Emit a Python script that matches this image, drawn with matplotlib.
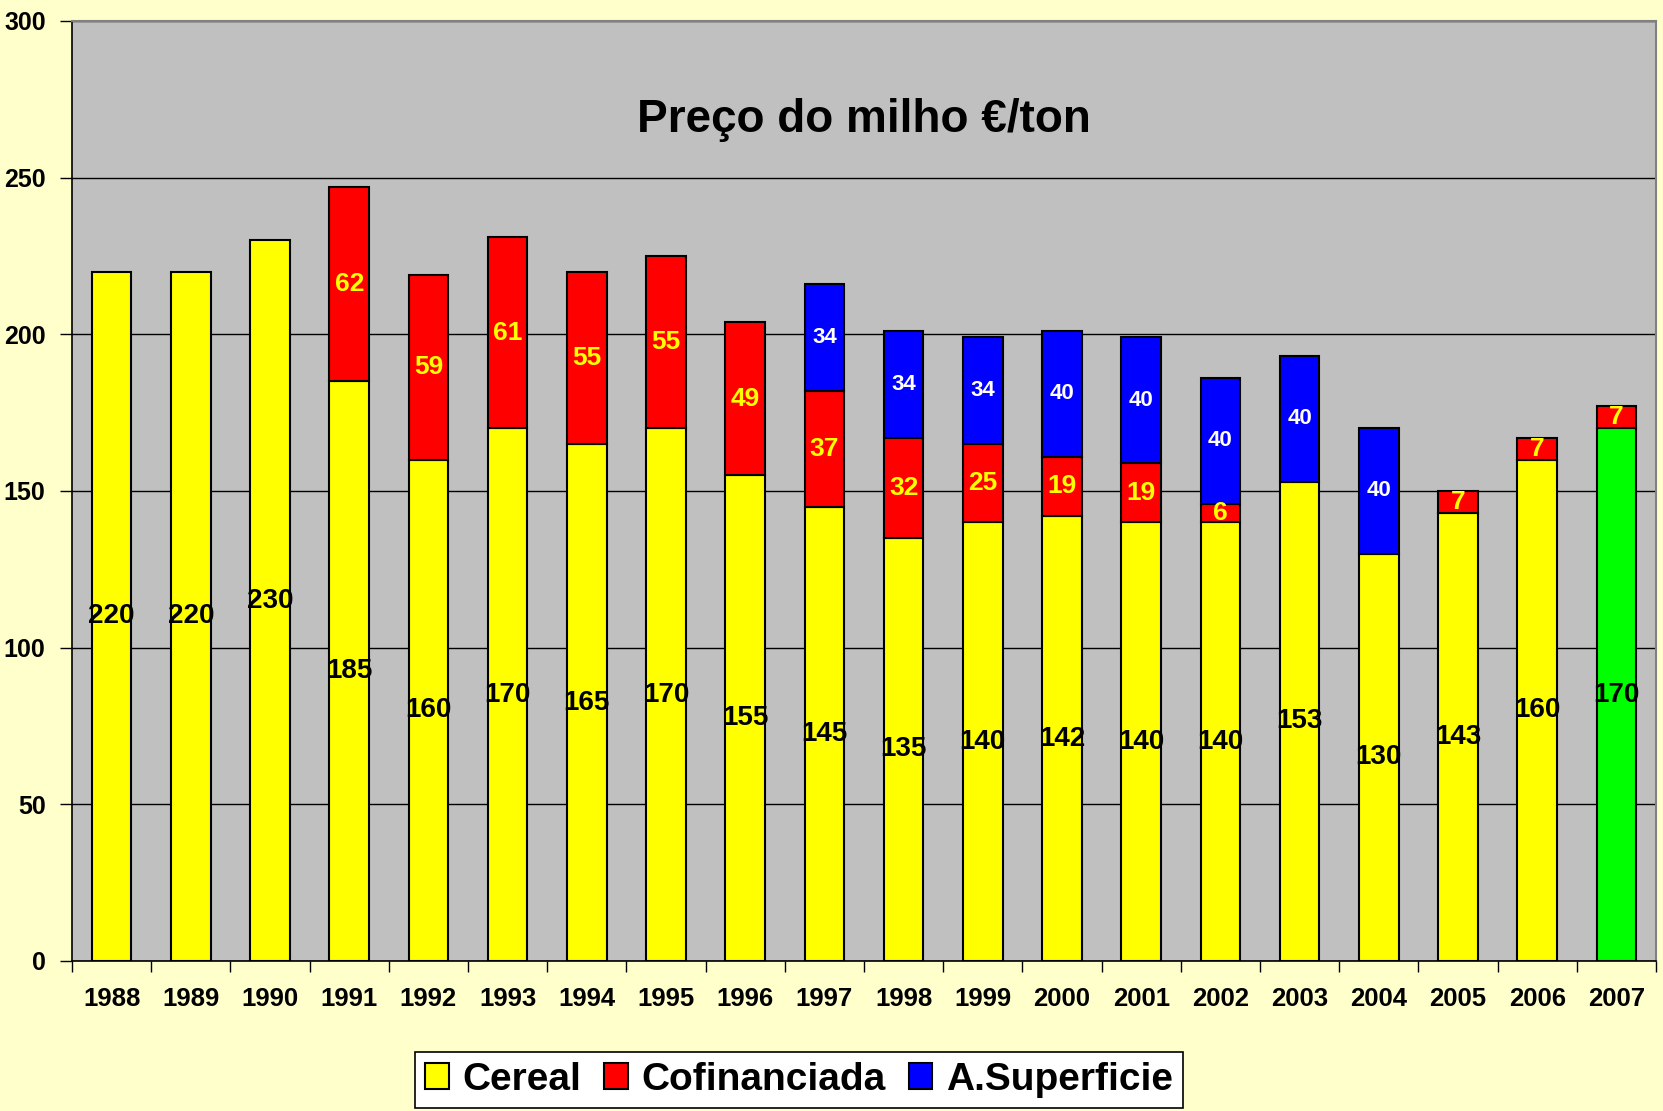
import matplotlib
matplotlib.use("Agg")
import matplotlib.pyplot as plt
from matplotlib.patches import Patch
import numpy as np

# ---------------------------------------------------------------------------
# Data (maize price, EUR/ton)
# ---------------------------------------------------------------------------
YEARS = [str(y) for y in range(1988, 2008)]
CEREAL = [220, 220, 230, 185, 160, 170, 165, 170, 155, 145,
          135, 140, 142, 140, 140, 153, 130, 143, 160, 170]
COFIN = [0, 0, 0, 62, 59, 61, 55, 55, 49, 37,
         32, 25, 19, 19, 6, 0, 0, 7, 7, 7]
SUPERF = [0, 0, 0, 0, 0, 0, 0, 0, 0, 34,
          34, 34, 40, 40, 40, 40, 40, 0, 0, 0]
SERIES = ["Cereal", "Cofinanciada", "A.Superficie"]
TITLE = "Preço do milho €/ton"

FIG_BG = "#FFFFCC"
PLOT_BG = "#C0C0C0"
YELLOW, RED, BLUE, GREEN = "#FFFF00", "#FF0000", "#0000FF", "#00FF00"

plt.rcParams["font.family"] = ["Liberation Sans", "DejaVu Sans"]
plt.rcParams["font.weight"] = "bold"

W, H = 1663, 1111
fig = plt.figure(figsize=(W / 100, H / 100), dpi=100, facecolor=FIG_BG)
ax = fig.add_axes([72 / W, 1 - 961 / H, (1656 - 72) / W, (961 - 21) / H])
ax.set_facecolor(PLOT_BG)

x = np.arange(len(YEARS))
cereal = np.array(CEREAL, dtype=float)
cofin = np.array(COFIN, dtype=float)
superf = np.array(SUPERF, dtype=float)
bw = 0.5

# --- bars ---
cereal_colors = [YELLOW] * (len(YEARS) - 1) + [GREEN]
ax.bar(x, cereal, bw, color=cereal_colors, edgecolor="black", linewidth=1.5, zorder=3)

m = cofin > 0
ax.bar(x[m], cofin[m], bw, bottom=cereal[m], color=RED,
       edgecolor="black", linewidth=1.5, zorder=3)

m2 = superf > 0
ax.bar(x[m2], superf[m2], bw, bottom=(cereal + cofin)[m2], color=BLUE,
       edgecolor="black", linewidth=1.5, zorder=3)

# --- segment labels ---
for i in x:
    ax.text(i, cereal[i] / 2, f"{int(cereal[i])}", ha="center", va="center",
            fontsize=20, fontweight="bold", color="black", zorder=5)
    if cofin[i] > 0:
        ax.text(i, cereal[i] + cofin[i] / 2, f"{int(cofin[i])}", ha="center",
                va="center", fontsize=19, fontweight="bold", color=YELLOW, zorder=5)
    if superf[i] > 0:
        ax.text(i, cereal[i] + cofin[i] + superf[i] / 2, f"{int(superf[i])}",
                ha="center", va="center", fontsize=16, fontweight="bold",
                color="white", zorder=5)

# --- title inside plot area ---
ax.text(0.5, 268.5, TITLE, transform=ax.get_yaxis_transform(), ha="center",
        va="center", fontsize=33, fontweight="bold", color="black", zorder=5)

# --- axes ---
ax.set_xlim(-0.5, len(YEARS) - 0.5)
ax.set_ylim(0, 300)
ax.set_yticks(np.arange(0, 301, 50))
ax.yaxis.grid(True, color="black", linewidth=1)
ax.set_axisbelow(True)

ax.set_xticks(np.arange(len(YEARS) + 1) - 0.5)
ax.set_xticklabels([])
ax.set_xticks(x, minor=True)
ax.set_xticklabels(YEARS, minor=True)
ax.tick_params(axis="x", which="major", length=8, width=1, color="black")
ax.tick_params(axis="x", which="minor", length=0, pad=19, labelsize=18.5)
ax.tick_params(axis="y", length=9, width=1, pad=10, labelsize=18)
for lbl in ax.get_xticklabels(minor=True) + ax.get_yticklabels():
    lbl.set_fontweight("bold")

for side in ("left", "bottom"):
    ax.spines[side].set_color("black")
    ax.spines[side].set_linewidth(1.2)
for side in ("top", "right"):
    ax.spines[side].set_color("#808080")
    ax.spines[side].set_linewidth(1.5)

# --- legend ---
handles = [Patch(facecolor=c, edgecolor="black", linewidth=1.5)
           for c in (YELLOW, RED, BLUE)]
leg = fig.legend(handles, SERIES, loc="center", bbox_to_anchor=(799 / W, 1 - 1080 / H),
                 ncol=3, handlelength=0.6, handleheight=0.65,
                 handletextpad=0.35, columnspacing=0.6, borderpad=0.25,
                 fancybox=False, framealpha=1, edgecolor="black",
                 prop={"weight": "bold", "size": 28})
leg.get_frame().set_linewidth(1.2)

fig.savefig("out.png", dpi=100, facecolor=FIG_BG)
